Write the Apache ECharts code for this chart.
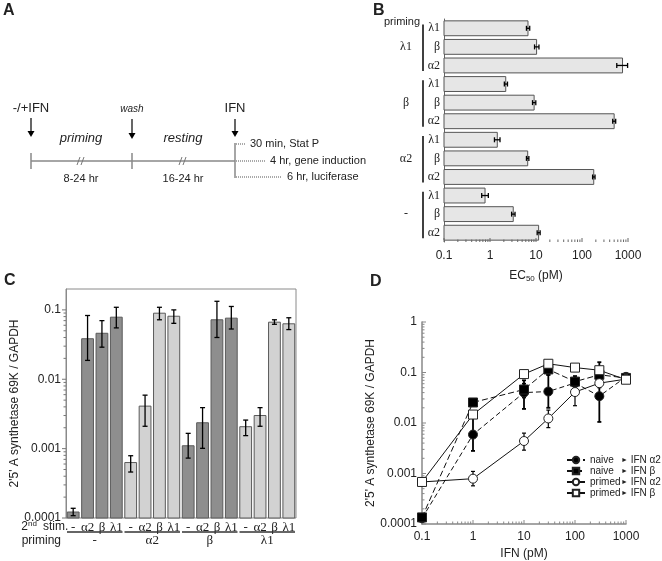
<!DOCTYPE html>
<html>
<head>
<meta charset="utf-8">
<script src="https://cdn.jsdelivr.net/npm/echarts@6/dist/echarts.min.js"></script>
<style>
html, body { margin: 0; padding: 0; background: #fff; }
#chart { width: 662px; height: 561px; }
</style>
</head>
<body>
<div id="chart"></div>
<script>
// ---- panel B: EC50 per priming / second stimulus ----
const bPriming = ["λ1", "λ1", "λ1", "β", "β", "β", "α2", "α2", "α2", "-", "-", "-"];
const bStim = ["λ1", "β", "α2", "λ1", "β", "α2", "λ1", "β", "α2", "λ1", "β", "α2"];
const bEC50 = [6.7, 10.3, 760, 2.2, 9.1, 500, 1.44, 6.6, 180, 0.78, 3.2, 11.4];
const bLow = [6.2, 9.3, 570, 2.05, 8.4, 465, 1.25, 6.2, 170, 0.66, 2.95, 10.6];
const bHigh = [7.3, 11.6, 980, 2.4, 9.9, 540, 1.65, 7.0, 192, 0.92, 3.5, 12.3];

// ---- panel C: 2'5' A synthetase mRNA ----
const cPriming = ["-", "-", "-", "-", "α2", "α2", "α2", "α2", "β", "β", "β", "β", "λ1", "λ1", "λ1", "λ1"];
const cStim = ["-", "α2", "β", "λ1", "-", "α2", "β", "λ1", "-", "α2", "β", "λ1", "-", "α2", "β", "λ1"];
const cValues = [0.000122, 0.0384, 0.046, 0.0785, 0.00063, 0.0041, 0.0896, 0.081, 0.0011, 0.00236, 0.072, 0.076, 0.00207, 0.0030, 0.0665, 0.063];
const cLow = [0.000108, 0.0187, 0.029, 0.055, 0.00046, 0.0021, 0.072, 0.064, 0.00073, 0.00101, 0.040, 0.053, 0.00154, 0.0021, 0.062, 0.052];
const cHigh = [0.000138, 0.083, 0.070, 0.109, 0.00079, 0.0059, 0.109, 0.100, 0.00166, 0.0039, 0.133, 0.112, 0.00258, 0.0039, 0.072, 0.077];

// ---- panel D: dose response ----
const dDose = [0.1, 1, 10, 30, 100, 300, 1000];
const dNaiveA2 = [0.00013, 0.0059, 0.040, 0.042, 0.062, 0.034, 0.082];
const dNaiveA2Low = [0.00012, 0.0028, 0.019, 0.020, 0.050, 0.0105, 0.078];
const dNaiveA2High = [0.00015, 0.0135, 0.070, 0.090, 0.075, 0.100, 0.086];
const dNaiveB = [0.000135, 0.0255, 0.046, 0.115, 0.066, 0.090, 0.078];
const dNaiveBLow = [0.00012, 0.022, 0.032, 0.090, 0.050, 0.070, 0.075];
const dNaiveBHigh = [0.00015, 0.029, 0.060, 0.140, 0.085, 0.160, 0.082];
const dPrimedA2 = [0.00068, 0.00079, 0.0044, 0.0123, 0.041, 0.0615, 0.074];
const dPrimedA2Low = [0.00063, 0.00057, 0.0029, 0.0081, 0.022, 0.050, 0.070];
const dPrimedA2High = [0.00073, 0.0011, 0.0063, 0.018, 0.075, 0.075, 0.078];
const dPrimedB = [0.00068, 0.0147, 0.093, 0.149, 0.125, 0.111, 0.072];
const dPrimedBLow = [0.00063, 0.0135, 0.086, 0.138, 0.116, 0.100, 0.068];
const dPrimedBHigh = [0.00073, 0.016, 0.110, 0.160, 0.134, 0.125, 0.076];
const dState = ["naive", "naive", "primed", "primed"];
const dIfn = ["α2", "β", "α2", "β"];

const SANS = '"Liberation Sans", Arial, sans-serif';
const SERIF = '"Liberation Serif", "Times New Roman", serif';
const TXT = "#222";

function groupsOf(labels) {
  const out = [];
  labels.forEach((l, i) => {
    const last = out[out.length - 1];
    if (last && last.label === l) last.end = i;
    else out.push({ label: l, start: i, end: i });
  });
  return out;
}
// tick positions of a log axis (2..9 inside every decade, plus decades)
function logTicks(min, max) {
  const out = [];
  for (let d = min; d < max * 0.999; d *= 10) {
    out.push([+d.toPrecision(3), 1]);
    for (let k = 2; k <= 9; k++) {
      const v = +(d * k).toPrecision(3);
      if (v < max) out.push([v, 0]);
    }
  }
  if (Math.abs(Math.log10(max) - Math.round(Math.log10(max))) < 1e-6) out.push([max, 1]);
  return out;
}
const fmtNum = v => String(Number(Number(v).toPrecision(3)));

const bKeys = bPriming.map((p, i) => p + "|" + bStim[i]);
const cKeys = cPriming.map((p, i) => p + "|" + cStim[i]);
const bGroups = groupsOf(bPriming);
const cGroups = groupsOf(cPriming);
const bMin = 0.1, bMax = 1000, cMin = 0.0001, cMax = 0.2;
const dXMin = 0.1, dXMax = 1000, dYMin = 0.0001, dYMax = 1;
const cColor = { "-": "#8e8e8e", "β": "#8e8e8e", "α2": "#d2d2d2", "λ1": "#d2d2d2" };

const chart = echarts.init(document.getElementById("chart"), null, { renderer: "canvas" });

// panel A diagram (schematic, not data)
function arrow(x, y1, y2) {
  return [
    { type: "line", shape: { x1: x, y1: y1, x2: x, y2: y2 - 5 }, style: { stroke: "#000", lineWidth: 1.2 } },
    { type: "polygon", shape: { points: [[x - 3.5, y2 - 6], [x + 3.5, y2 - 6], [x, y2]] }, style: { fill: "#000" } }
  ];
}
function txt(x, y, s, font, align) {
  return { type: "text", x: x, y: y, style: { text: s, font: font, fill: TXT, textAlign: align || "center", textVerticalAlign: "middle" } };
}
function brk(x, y) {
  return [
    { type: "line", shape: { x1: x - 4, y1: y + 4, x2: x - 1, y2: y - 4 }, style: { stroke: "#777", lineWidth: 1 } },
    { type: "line", shape: { x1: x, y1: y + 4, x2: x + 3, y2: y - 4 }, style: { stroke: "#777", lineWidth: 1 } }
  ];
}
const tl = 161;
const graphicA = [].concat(
  txt(31, 108, "-/+IFN", "13px " + SANS),
  arrow(31, 118, 137),
  txt(132, 109, "wash", "italic 10px " + SANS),
  arrow(132, 119, 139),
  txt(235, 108, "IFN", "13px " + SANS),
  arrow(235, 119, 137),
  txt(81, 138, "priming", "italic 13px " + SANS),
  txt(183, 138, "resting", "italic 13px " + SANS),
  [{ type: "line", shape: { x1: 31, y1: tl, x2: 235, y2: tl }, style: { stroke: "#888", lineWidth: 1.5 } },
   { type: "line", shape: { x1: 31, y1: 153, x2: 31, y2: 169 }, style: { stroke: "#888", lineWidth: 1.5 } },
   { type: "line", shape: { x1: 132, y1: 153, x2: 132, y2: 169 }, style: { stroke: "#888", lineWidth: 1.5 } },
   { type: "line", shape: { x1: 235, y1: 143, x2: 235, y2: 178 }, style: { stroke: "#888", lineWidth: 1.5 } },
   { type: "line", shape: { x1: 236, y1: 144, x2: 246, y2: 144 }, style: { stroke: "#555", lineWidth: 1, lineDash: [1, 1] } },
   { type: "line", shape: { x1: 236, y1: tl, x2: 266, y2: tl }, style: { stroke: "#555", lineWidth: 1, lineDash: [1, 1] } },
   { type: "line", shape: { x1: 236, y1: 177, x2: 281, y2: 177 }, style: { stroke: "#555", lineWidth: 1, lineDash: [1, 1] } }],
  brk(81, tl), brk(183, tl),
  txt(81, 179, "8-24 hr", "11px " + SANS),
  txt(183, 179, "16-24 hr", "11px " + SANS),
  txt(250, 144, "30 min, Stat P", "11px " + SANS, "left"),
  txt(270, 161, "4 hr, gene induction", "11px " + SANS, "left"),
  txt(287, 177, "6 hr, luciferase", "11px " + SANS, "left"),
  txt(3, 11, "A", "bold 16px " + SANS, "left"),
  txt(373, 11, "B", "bold 16px " + SANS, "left"),
  txt(4, 281, "C", "bold 16px " + SANS, "left"),
  txt(370, 282, "D", "bold 16px " + SANS, "left"),
  txt(420, 22, "priming", "11px " + SANS, "right"),
  txt(61, 541, "priming", "12px " + SANS, "right"),
  txt(43, 527, "stim.", "12px " + SANS, "left"),
  txt(28, 527, "2", "12px " + SANS, "right"),
  txt(28, 524, "nd", "8px " + SANS, "left")
);

// renderers
function renderBarB(params, api) {
  const idx = api.value(1);
  const band = api.size([0, 1])[1];
  const h = band * 0.8;
  const s = api.coord([bMin, idx]);
  const e = api.coord([api.value(0), idx]);
  const lo = api.coord([api.value(2), idx]);
  const hi = api.coord([api.value(3), idx]);
  const y = s[1];
  return { type: "group", children: [
    { type: "rect", shape: { x: s[0], y: y - h / 2, width: e[0] - s[0], height: h }, style: { fill: "#e6e6e6", stroke: "#555", lineWidth: 1 } },
    { type: "line", shape: { x1: lo[0], y1: y, x2: hi[0], y2: y }, style: { stroke: "#000", lineWidth: 1.3 } },
    { type: "line", shape: { x1: lo[0], y1: y - 2.5, x2: lo[0], y2: y + 2.5 }, style: { stroke: "#000", lineWidth: 1.3 } },
    { type: "line", shape: { x1: hi[0], y1: y - 2.5, x2: hi[0], y2: y + 2.5 }, style: { stroke: "#000", lineWidth: 1.3 } }
  ] };
}
function renderGroupB(params, api) {
  const band = api.size([0, 1])[1];
  const a = api.coord([bMin, api.value(1)]);
  const b = api.coord([bMin, api.value(2)]);
  const g = bGroups[api.value(3)];
  return { type: "group", children: [
    { type: "line", shape: { x1: a[0] - 21, y1: a[1] - band * 0.2, x2: a[0] - 21, y2: b[1] + band * 0.3 }, style: { stroke: "#000", lineWidth: 1.5 } },
    { type: "text", x: a[0] - 38, y: (a[1] + b[1]) / 2, style: { text: g.label, font: "12px " + SERIF, fill: TXT, textAlign: "center", textVerticalAlign: "middle" } }
  ] };
}
function renderBarC(params, api) {
  const idx = api.value(0);
  const band = api.size([1, 0])[0];
  const w = band * 0.82;
  const s = api.coord([idx, cMin]);
  const e = api.coord([idx, api.value(1)]);
  const lo = api.coord([idx, api.value(2)]);
  const hi = api.coord([idx, api.value(3)]);
  const x = s[0];
  return { type: "group", children: [
    { type: "rect", shape: { x: x - w / 2, y: e[1], width: w, height: s[1] - e[1] }, style: { fill: cColor[cPriming[idx]], stroke: "#5a5a5a", lineWidth: 1 } },
    { type: "line", shape: { x1: x, y1: lo[1], x2: x, y2: hi[1] }, style: { stroke: "#000", lineWidth: 1.3 } },
    { type: "line", shape: { x1: x - 2.5, y1: lo[1], x2: x + 2.5, y2: lo[1] }, style: { stroke: "#000", lineWidth: 1.3 } },
    { type: "line", shape: { x1: x - 2.5, y1: hi[1], x2: x + 2.5, y2: hi[1] }, style: { stroke: "#000", lineWidth: 1.3 } }
  ] };
}
function renderGroupC(params, api) {
  const band = api.size([1, 0])[0];
  const a = api.coord([api.value(0), cMin]);
  const b = api.coord([api.value(2), cMin]);
  const g = cGroups[api.value(3)];
  return { type: "group", children: [
    { type: "line", shape: { x1: a[0] - band / 2 + 1, y1: a[1] + 14, x2: b[0] + band / 2 - 1, y2: a[1] + 14 }, style: { stroke: "#333", lineWidth: 1.3 } },
    { type: "text", x: (a[0] + b[0]) / 2, y: a[1] + 23, style: { text: g.label, font: "13px " + SERIF, fill: TXT, textAlign: "center", textVerticalAlign: "middle" } }
  ] };
}
function errRenderer(width) {
  return function (params, api) {
    const x = api.value(0);
    const lo = api.coord([x, api.value(1)]);
    const hi = api.coord([x, api.value(2)]);
    return { type: "group", children: [
      { type: "line", shape: { x1: lo[0], y1: lo[1], x2: hi[0], y2: hi[1] }, style: { stroke: "#000", lineWidth: width } },
      { type: "line", shape: { x1: lo[0] - 2, y1: lo[1], x2: lo[0] + 2, y2: lo[1] }, style: { stroke: "#000", lineWidth: width } },
      { type: "line", shape: { x1: hi[0] - 2, y1: hi[1], x2: hi[0] + 2, y2: hi[1] }, style: { stroke: "#000", lineWidth: width } }
    ] };
  };
}
// log ticks along the bottom (x) or left (y) edge of a grid; dir = +1 inward, -1 outward
function xTicks(other, dir, color) {
  return function (params, api) {
    const cs = params.coordSys;
    const x = api.coord([api.value(0), other])[0];
    const yb = cs.y + cs.height;
    const len = api.value(1) ? 4 : 2.5;
    return { type: "line", shape: { x1: x, y1: yb, x2: x, y2: yb - dir * len }, style: { stroke: color, lineWidth: 1 } };
  };
}
function yTicks(other, dir, color) {
  return function (params, api) {
    const cs = params.coordSys;
    const y = api.coord([other, api.value(0)])[1];
    const len = api.value(1) ? 4 : 2.5;
    return { type: "line", shape: { x1: cs.x, y1: y, x2: cs.x + dir * len, y2: y }, style: { stroke: color, lineWidth: 1 } };
  };
}

const dY = [dNaiveA2, dNaiveB, dPrimedA2, dPrimedB];
const dLo = [dNaiveA2Low, dNaiveBLow, dPrimedA2Low, dPrimedBLow];
const dHi = [dNaiveA2High, dNaiveBHigh, dPrimedA2High, dPrimedBHigh];
const dStyle = [
  { symbol: "circle", fill: "#000", dash: [5, 3], err: 1.8 },
  { symbol: "rect", fill: "#000", dash: [6, 3], err: 1.8 },
  { symbol: "circle", fill: "#fff", dash: "solid", err: 1.2 },
  { symbol: "rect", fill: "#fff", dash: "solid", err: 1.2 }
];
const dNames = dState.map((s, i) => s + "|" + dIfn[i]);

const logAxisCommon = {
  type: "log", logBase: 10,
  splitLine: { show: false },
  axisTick: { show: false },
  minorTick: { show: false },
  axisLabel: { color: TXT, fontSize: 12, fontFamily: SANS, formatter: fmtNum },
  nameTextStyle: { color: TXT, fontSize: 12, fontFamily: SANS }
};

const series = [
  { type: "custom", xAxisIndex: 0, yAxisIndex: 0, renderItem: renderBarB, clip: false,
    data: bEC50.map((v, i) => [v, i, bLow[i], bHigh[i]]) },
  { type: "custom", xAxisIndex: 0, yAxisIndex: 0, renderItem: renderGroupB, clip: false,
    data: bGroups.map((g, k) => [bMin, g.start, g.end, k]) },
  { type: "custom", xAxisIndex: 0, yAxisIndex: 0, renderItem: xTicks(0, 1, "#666"), clip: false, z: 10,
    data: logTicks(bMin, bMax) },
  { type: "custom", xAxisIndex: 1, yAxisIndex: 1, renderItem: renderBarC, clip: false,
    data: cValues.map((v, i) => [i, v, cLow[i], cHigh[i]]) },
  { type: "custom", xAxisIndex: 1, yAxisIndex: 1, renderItem: renderGroupC, clip: false,
    data: cGroups.map((g, k) => [g.start, cMin, g.end, k]) },
  { type: "custom", xAxisIndex: 1, yAxisIndex: 1, renderItem: yTicks(0, -1, "#777"), clip: false,
    data: logTicks(cMin, cMax) },
  { type: "custom", xAxisIndex: 2, yAxisIndex: 2, renderItem: xTicks(dYMax, 1, "#888"), clip: false,
    data: logTicks(dXMin, dXMax) },
  { type: "custom", xAxisIndex: 2, yAxisIndex: 2, renderItem: yTicks(dXMin, 1, "#888"), clip: false,
    data: logTicks(dYMin, dYMax) }
];
dNames.forEach((name, k) => {
  series.push({
    type: "custom", xAxisIndex: 2, yAxisIndex: 2, renderItem: errRenderer(dStyle[k].err), clip: false, z: 1,
    data: dDose.map((x, i) => [x, dLo[k][i], dHi[k][i]])
  });
});
dNames.forEach((name, k) => {
  series.push({
    name: name, type: "line", xAxisIndex: 2, yAxisIndex: 2, z: 3 + k,
    symbol: dStyle[k].symbol, symbolSize: 9, showAllSymbol: true,
    lineStyle: { color: "#111", width: 1, type: dStyle[k].dash },
    itemStyle: { color: dStyle[k].fill, borderColor: "#222", borderWidth: 1 },
    data: dDose.map((x, i) => [x, dY[k][i]])
  });
});

const option = {
  animation: false,
  backgroundColor: "#fff",
  textStyle: { fontFamily: SANS },
  graphic: graphicA,
  grid: [
    { left: 444, right: 34, top: 19, bottom: 319 },
    { left: 66, right: 366, top: 289, bottom: 43, show: true, borderColor: "#8a8a8a", borderWidth: 1 },
    { left: 422, right: 36, top: 322, bottom: 34 }
  ],
  xAxis: [
    Object.assign({}, logAxisCommon, {
      gridIndex: 0, min: bMin, max: bMax,
      axisLine: { lineStyle: { color: "#999", width: 2 } },
      axisLabel: Object.assign({}, logAxisCommon.axisLabel, { margin: 8 }),
      name: "EC{s|50} (pM)", nameLocation: "middle", nameGap: 27,
      nameTextStyle: { color: TXT, fontSize: 12, fontFamily: SANS, rich: { s: { fontSize: 8, fontFamily: SANS, padding: [6, 0, 0, 0] } } }
    }),
    {
      type: "category", gridIndex: 1, data: cKeys,
      axisLine: { show: false }, axisTick: { show: false },
      axisLabel: { interval: 0, margin: 3, color: TXT, fontSize: 13, fontFamily: SERIF, formatter: v => v.split("|")[1] }
    },
    Object.assign({}, logAxisCommon, {
      gridIndex: 2, min: dXMin, max: dXMax,
      axisLine: { lineStyle: { color: "#888", width: 1.5 } },
      axisLabel: Object.assign({}, logAxisCommon.axisLabel, { margin: 7 }),
      name: "IFN (pM)", nameLocation: "middle", nameGap: 24
    })
  ],
  yAxis: [
    {
      type: "category", gridIndex: 0, data: bKeys, inverse: true,
      axisLine: { lineStyle: { color: "#666" } }, axisTick: { show: false },
      axisLabel: { interval: 0, margin: 4, color: TXT, fontSize: 12, fontFamily: SERIF, formatter: v => v.split("|")[1] }
    },
    Object.assign({}, logAxisCommon, {
      gridIndex: 1, min: cMin, max: cMax,
      axisLine: { show: true, lineStyle: { color: "#8a8a8a" } },
      axisLabel: Object.assign({}, logAxisCommon.axisLabel, { margin: 5, showMaxLabel: false }),
      name: "2'5' A synthetase 69K / GAPDH", nameLocation: "middle", nameGap: 43
    }),
    Object.assign({}, logAxisCommon, {
      gridIndex: 2, min: dYMin, max: dYMax,
      axisLine: { show: true, lineStyle: { color: "#888", width: 1.5 } },
      axisLabel: Object.assign({}, logAxisCommon.axisLabel, { margin: 5 }),
      name: "2'5' A synthetase 69K / GAPDH", nameLocation: "middle", nameGap: 40
    })
  ],
  legend: {
    data: dNames, orient: "vertical", left: 566, top: 455, padding: 0,
    itemWidth: 18, itemHeight: 8, itemGap: 1,
    formatter: name => {
      const p = name.split("|");
      return "{a|" + p[0] + "}{b|►}{c| IFN " + p[1] + "}";
    },
    textStyle: {
      color: TXT, fontSize: 10, fontFamily: SANS,
      rich: {
        a: { width: 31, fontSize: 10, lineHeight: 10, fontFamily: SANS },
        b: { fontSize: 7, lineHeight: 10 },
        c: { fontSize: 10, lineHeight: 10, fontFamily: SANS }
      }
    }
  },
  series: series
};
chart.setOption(option);
</script>
</body>
</html>
